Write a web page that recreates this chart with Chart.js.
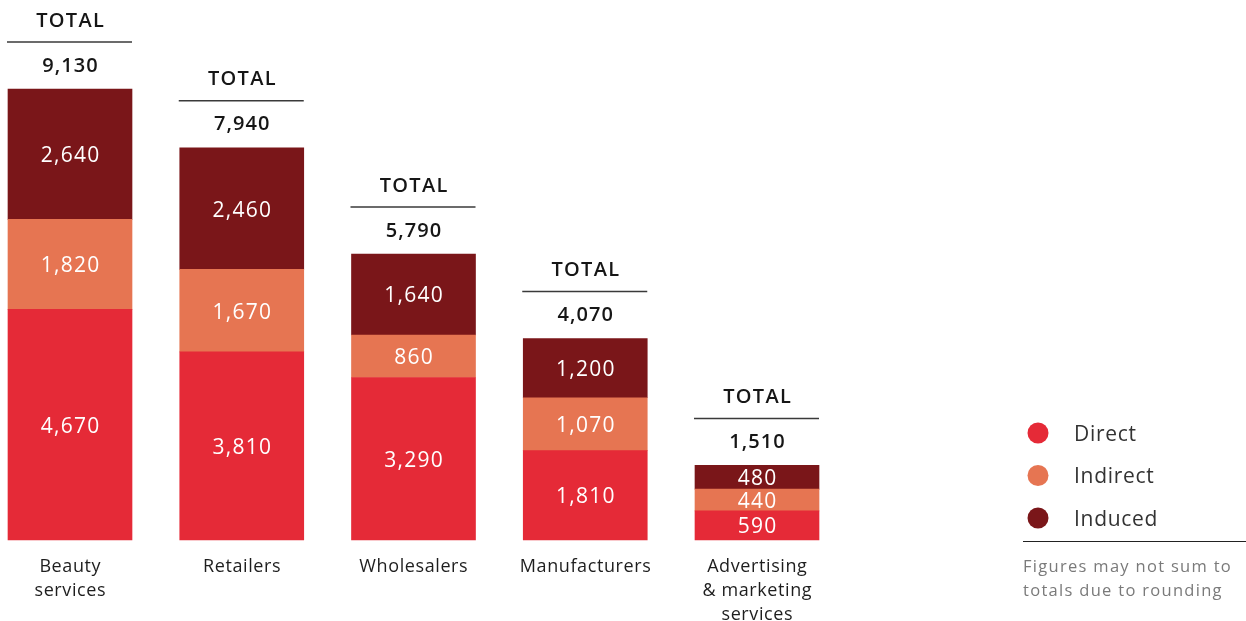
<!DOCTYPE html>
<html>
<head>
<meta charset="utf-8">
<script src="https://cdn.jsdelivr.net/npm/chart.js@4"></script>
<style>
  html, body { margin: 0; padding: 0; background: #fff; }
  #wrap { width: 1246px; height: 621px; position: relative; }
</style>
</head>
<body>
<div id="wrap"><canvas id="impactChart"></canvas></div>
<script>
const sectors = [['Beauty', 'services'], ['Retailers'], ['Wholesalers'], ['Manufacturers'], ['Advertising', '& marketing', 'services']];
const direct = [4670, 3810, 3290, 1810, 590];
const indirect = [1820, 1670, 860, 1070, 440];
const induced = [2640, 2460, 1640, 1200, 480];
const totals = [9130, 7940, 5790, 4070, 1510];
const seriesNames = ['Direct', 'Indirect', 'Induced'];
const seriesColors = ['#e52a37', '#e67552', '#7a1619'];
const footnote = ['Figures may not sum to', 'totals due to rounding'];

const FONT = '"Open Sans", "Noto Sans", sans-serif';
const fmt = v => v.toLocaleString('en-US');

// centred text with extra tracking (canvas adds the spacing after each glyph)
function spaced(ctx, text, x, y, spacing) {
    ctx.letterSpacing = spacing + 'px';
    ctx.fillText(text, x + spacing / 2, y);
    ctx.letterSpacing = '0px';
}

// segment values, totals, category names, legend and note
const annotations = {
    id: 'annotations',
    afterDatasetsDraw(chart) {
        const ctx = chart.ctx;
        ctx.save();
        ctx.textAlign = 'center';
        ctx.textBaseline = 'middle';

        // values inside each segment
        chart.data.datasets.forEach((ds, di) => {
            chart.getDatasetMeta(di).data.forEach((bar, i) => {
                ctx.fillStyle = '#ffffff';
                ctx.font = '500 21px ' + FONT;
                spaced(ctx, fmt(ds.data[i]), bar.x, (bar.y + bar.base) / 2 + 2, 1.3);
            });
        });

        // TOTAL header above each column
        const topMeta = chart.getDatasetMeta(chart.data.datasets.length - 1);
        topMeta.data.forEach((bar, i) => {
            const top = Math.min(bar.y, bar.base);
            const half = bar.width / 2;
            ctx.fillStyle = '#161616';
            ctx.font = '600 20px ' + FONT;
            spaced(ctx, fmt(totals[i]), bar.x, top - 23, 1.1);
            spaced(ctx, 'TOTAL', bar.x, top - 68, 1.3);
            ctx.strokeStyle = '#3a3a3a';
            ctx.lineWidth = 1.5;
            ctx.beginPath();
            ctx.moveTo(bar.x - half - 1, top - 47);
            ctx.lineTo(bar.x + half, top - 47);
            ctx.stroke();

            // category label under the bar
            ctx.fillStyle = '#1e1e1e';
            ctx.font = '18px ' + FONT;
            sectors[i].forEach((line, li) => {
                spaced(ctx, line, bar.x, chart.chartArea.bottom + 27 + li * 24, 0.6);
            });
        });

        // legend
        ctx.textAlign = 'left';
        seriesNames.forEach((name, i) => {
            const y = 433 + i * 42.5;
            ctx.fillStyle = seriesColors[i];
            ctx.beginPath();
            ctx.arc(1038, y, 10.5, 0, Math.PI * 2);
            ctx.fill();
            ctx.fillStyle = '#333333';
            ctx.font = '21px ' + FONT;
            ctx.letterSpacing = '0.7px';
            ctx.fillText(name, 1074, y + 2);
        });

        ctx.letterSpacing = '0px';
        ctx.strokeStyle = '#222222';
        ctx.lineWidth = 1;
        ctx.beginPath();
        ctx.moveTo(1023, 541.5);
        ctx.lineTo(1246, 541.5);
        ctx.stroke();

        ctx.fillStyle = '#7a7a7a';
        ctx.font = '16.5px ' + FONT;
        ctx.letterSpacing = '1.3px';
        footnote.forEach((line, i) => ctx.fillText(line, 1023, 567 + i * 24));
        ctx.restore();
    }
};

new Chart(document.getElementById('impactChart'), {
    type: 'bar',
    data: {
        labels: sectors.map(s => s.join(' ')),
        datasets: [direct, indirect, induced].map((values, i) => ({
            label: seriesNames[i],
            data: values,
            backgroundColor: seriesColors[i],
            borderWidth: 0,
            barThickness: 124,
            clip: false
        }))
    },
    options: {
        responsive: true,
        maintainAspectRatio: false,
        animation: false,
        layout: { padding: { left: 70, right: 489, top: 0, bottom: 81 } },
        plugins: { legend: { display: false }, tooltip: { enabled: false } },
        scales: {
            x: { stacked: true, offset: false, display: false },
            y: { stacked: true, min: 0, max: 10932, display: false }
        }
    },
    plugins: [annotations]
});
</script>
</body>
</html>
